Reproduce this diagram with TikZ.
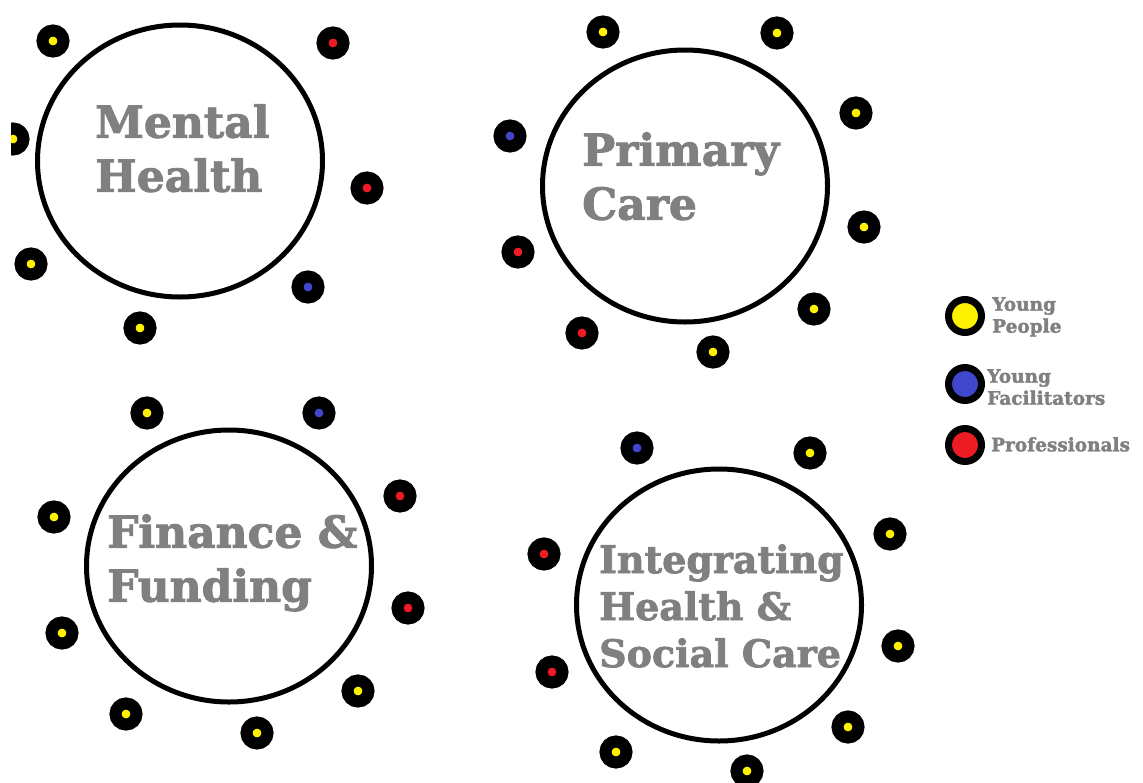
\documentclass[tikz,border=0pt]{standalone}
\usepackage{fontspec}
\setmainfont{DejaVu Serif}[BoldFeatures={FakeBold=2}]
\usetikzlibrary{shapes.geometric, positioning}
\definecolor{paintyellow}{RGB}{255,242,0}
\definecolor{paintblue}{RGB}{63,72,204}
\definecolor{paintred}{RGB}{237,28,36}
\definecolor{labelgrey}{RGB}{128,128,128}
\tikzset{
  area/.style={ellipse, draw=black, line width=5pt, minimum width=285pt, minimum height=272pt, inner sep=0pt},
  areatxt/.style={anchor=north west, inner sep=0pt, align=left, text=labelgrey, font=\fontsize{44}{54}\selectfont\bfseries},
  member/.style={circle, draw=black, line width=12pt, minimum size=21pt, inner sep=0pt},
  yp/.style={member, fill=paintyellow},
  yf/.style={member, fill=paintblue},
  pro/.style={member, fill=paintred},
  keydot/.style={circle, draw=black, line width=7pt, minimum size=33pt, inner sep=0pt},
  keytxt/.style={anchor=north west, inner sep=0pt, align=left, text=labelgrey, font=\fontsize{18.5}{22}\selectfont\bfseries}
}

\begin{document}
\begin{tikzpicture}[x=1pt, y=-1pt]
  \useasboundingbox [fill=white] (0,0) rectangle (1143,782);
  % Mental health
  \node (mh) [area] at (180,161) {};
  \node (mhtxt) [areatxt] at (95,104) {Mental\\Health};
  \node (mh1) [yp] at (53,41) {};
  \node (mh2) [pro] at (333,43) {};
  \begin{scope}
    \clip (11,100) rectangle (60,180);
    \node (mh3) [yp] at (13,139) {};
  \end{scope}
  \node (mh4) [pro] at (367,188) {};
  \node (mh5) [yp] at (31,264) {};
  \node (mh6) [yf] at (308,287) {};
  \node (mh7) [yp] at (140,328) {};
  % Primary care
  \node (pc) [area] at (685,186) {};
  \node (pctxt) [areatxt] at (582,132) {Primary\\Care};
  \node (pc1) [yp] at (603,32) {};
  \node (pc2) [yp] at (777,33) {};
  \node (pc3) [yp] at (856,113) {};
  \node (pc4) [yf] at (510,136) {};
  \node (pc5) [yp] at (864,227) {};
  \node (pc6) [pro] at (518,252) {};
  \node (pc7) [yp] at (814,309) {};
  \node (pc8) [pro] at (582,333) {};
  \node (pc9) [yp] at (713,352) {};
  % Finance and funding
  \node (ff) [area] at (229,566) {};
  \node (fftxt) [areatxt] at (107,514) {Finance \&\\Funding};
  \node (ff1) [yp] at (147,413) {};
  \node (ff2) [yf] at (319,413) {};
  \node (ff3) [pro] at (400,496) {};
  \node (ff4) [yp] at (54,517) {};
  \node (ff5) [pro] at (408,608) {};
  \node (ff6) [yp] at (62,633) {};
  \node (ff7) [yp] at (358,691) {};
  \node (ff8) [yp] at (126,714) {};
  \node (ff9) [yp] at (257,733) {};
  % Integrating health and social care
  \node (ih) [area] at (719,605) {};
  \node (ihtxt) [areatxt, font=\fontsize{38}{47}\selectfont\bfseries] at (599,544) {Integrating\\Health \&\\Social Care};
  \node (ih1) [yf] at (637,448) {};
  \node (ih2) [yp] at (810,453) {};
  \node (ih3) [yp] at (890,534) {};
  \node (ih4) [pro] at (544,554) {};
  \node (ih5) [yp] at (898,646) {};
  \node (ih6) [pro] at (552,672) {};
  \node (ih7) [yp] at (848,727) {};
  \node (ih8) [yp] at (616,752) {};
  \node (ih9) [yp] at (747,771) {};
  % Key
  \node (keyyp) [keydot, fill=paintyellow] at (965,316) {};
  \node (keyyptxt) [keytxt] at (992,297) {Young\\People};
  \node (keyyf) [keydot, fill=paintblue] at (965,384) {};
  \node (keyyftxt) [keytxt] at (987,369) {Young\\Facilitators};
  \node (keypro) [keydot, fill=paintred] at (965,445) {};
  \node (keyprotxt) [keytxt] at (991,437) {Professionals};
\end{tikzpicture}
\end{document}
